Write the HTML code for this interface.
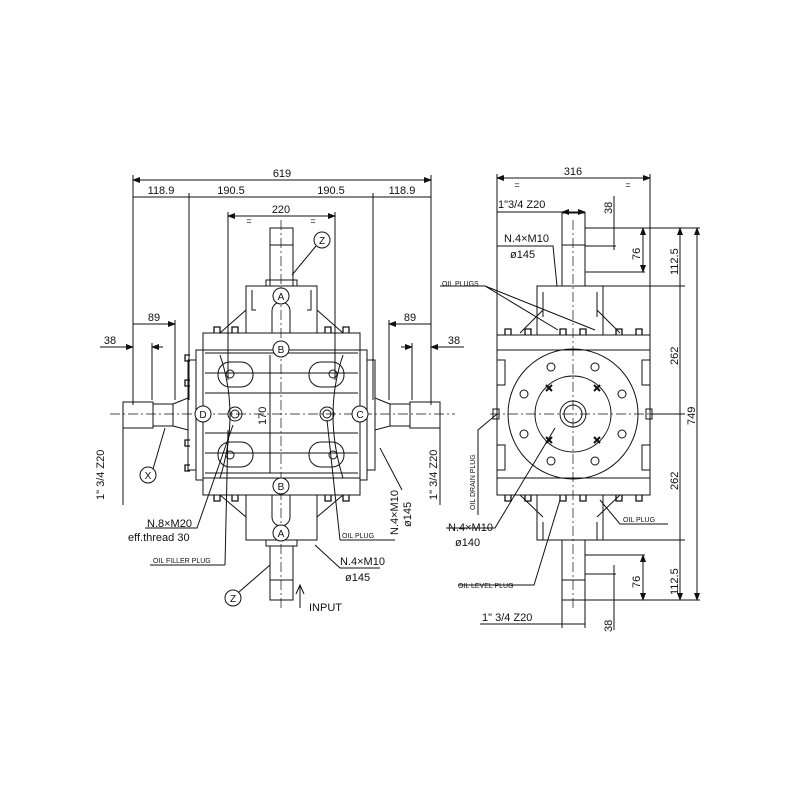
<!DOCTYPE html>
<html><head><style>
html,body{margin:0;padding:0;background:#fff}
svg{display:block}
text{font-family:"Liberation Sans",sans-serif;fill:#111}
</style></head><body>
<svg width="800" height="800" viewBox="0 0 800 800" xmlns="http://www.w3.org/2000/svg">
<defs>
<marker id="ar" markerWidth="8" markerHeight="6" refX="7" refY="3" orient="auto-start-reverse"><path d="M0,0 L8,3 L0,6z" fill="#111"/></marker>
</defs>
<rect width="800" height="800" fill="#fff"/>
<g stroke="#111" stroke-width="1" fill="none">
<!-- ========== LEFT VIEW ========== -->
<!-- dimension lines -->
<line x1="133" y1="180" x2="431" y2="180" marker-start="url(#ar)" marker-end="url(#ar)"/>
<line x1="133" y1="197" x2="431" y2="197"/>
<line x1="133" y1="175" x2="133" y2="405"/>
<line x1="431" y1="175" x2="431" y2="405"/>
<line x1="189" y1="193" x2="189" y2="400"/>
<line x1="373" y1="193" x2="373" y2="400"/>
<line x1="228" y1="216" x2="335" y2="216" marker-start="url(#ar)" marker-end="url(#ar)"/>
<line x1="228" y1="212" x2="228" y2="380"/>
<line x1="335" y1="212" x2="335" y2="380"/>
<line x1="133" y1="324" x2="175" y2="324" marker-end="url(#ar)"/>
<line x1="175" y1="320" x2="175" y2="400"/>
<line x1="431" y1="324" x2="389" y2="324" marker-end="url(#ar)"/>
<line x1="389" y1="320" x2="389" y2="400"/>
<line x1="100" y1="347" x2="133" y2="347" marker-end="url(#ar)"/>
<line x1="163" y1="347" x2="152" y2="347" marker-end="url(#ar)"/>
<line x1="152" y1="343" x2="152" y2="400"/>
<line x1="464" y1="347" x2="431" y2="347" marker-end="url(#ar)"/>
<line x1="401" y1="347" x2="412" y2="347" marker-end="url(#ar)"/>
<line x1="412" y1="343" x2="412" y2="400"/>
<line x1="123" y1="402" x2="123" y2="505"/>
<line x1="440" y1="402" x2="440" y2="505"/>
<line x1="270" y1="355" x2="270" y2="473"/>
<!-- center lines -->
<line x1="281" y1="220" x2="281" y2="610" stroke-dasharray="10,3,2,3" stroke-width="0.7"/>
<line x1="110" y1="414" x2="455" y2="414" stroke-dasharray="10,3,2,3" stroke-width="0.7"/>
<!-- top shaft + cap -->
<rect x="270" y="228" width="23" height="58"/>
<line x1="270" y1="245" x2="293" y2="245"/>
<rect x="266" y="280" width="31" height="6"/>
<rect x="246" y="286" width="71" height="47"/>
<path d="M252,290 v20 h4 M311,290 v20 h-4"/>
<path d="M272,333 v-22 a9,9 0 0 1 18,0 v22"/>
<path d="M246,310 L220,333 M317,310 L343,333"/>
<!-- bottom shaft + cap -->
<rect x="246" y="495" width="71" height="45"/>
<path d="M272,495 v22 a9,9 0 0 0 18,0 v-22"/>
<path d="M246,517 L220,495 M317,517 L343,495"/>
<rect x="266" y="540" width="31" height="6"/>
<rect x="270" y="546" width="23" height="54"/>
<line x1="270" y1="580" x2="293" y2="580"/>
<!-- main body -->
<rect x="203" y="333" width="157" height="162"/>
<line x1="203" y1="350" x2="360" y2="350"/>
<line x1="203" y1="478" x2="360" y2="478"/>
<line x1="205" y1="353" x2="358" y2="353"/>
<line x1="205" y1="373" x2="358" y2="373"/>
<line x1="205" y1="393" x2="358" y2="393"/>
<line x1="205" y1="433" x2="358" y2="433"/>
<line x1="205" y1="453" x2="358" y2="453"/>
<line x1="205" y1="473" x2="358" y2="473"/>
<rect x="196" y="350" width="7" height="130"/>
<rect x="360" y="350" width="7" height="130"/>
<rect x="188" y="360" width="8" height="110"/>
<rect x="367" y="360" width="8" height="110"/>
<path d="M220,355 Q240,414 220,478 M343,355 Q323,414 343,478"/>
<rect x="218" y="362" width="35" height="25" rx="12"/>
<rect x="309" y="362" width="35" height="25" rx="12"/>
<rect x="218" y="442" width="35" height="25" rx="12"/>
<rect x="309" y="442" width="35" height="25" rx="12"/>
<circle cx="230" cy="374" r="4"/><circle cx="333" cy="374" r="4"/>
<circle cx="230" cy="455" r="4"/><circle cx="333" cy="455" r="4"/>
<circle cx="235" cy="414" r="7"/><circle cx="235" cy="414" r="4"/>
<circle cx="327" cy="414" r="7"/><circle cx="327" cy="414" r="4"/>
<g stroke-width="1.3">
<path d="M214,333 v-6 h6 v6 M232,333 v-6 h6 v6 M325,333 v-6 h6 v6 M343,333 v-6 h6 v6"/>
<path d="M214,495 v6 h6 v-6 M232,495 v6 h6 v-6 M325,495 v6 h6 v-6 M343,495 v6 h6 v-6"/>
<path d="M190,355 h-5 v6 h5 M190,380 h-5 v6 h5 M190,440 h-5 v6 h5 M190,465 h-5 v6 h5"/>
</g>
<!-- side shafts -->
<rect x="123" y="402" width="30" height="26"/>
<rect x="153" y="404" width="20" height="22"/>
<path d="M173,404 L188,398 v32 L173,426"/>
<rect x="410" y="402" width="30" height="26"/>
<rect x="390" y="404" width="20" height="22"/>
<path d="M390,404 L375,398 v32 L390,426"/>
<!-- labels circles -->
<g fill="#fff">
<circle cx="281" cy="296" r="8"/><circle cx="281" cy="349" r="8"/>
<circle cx="281" cy="486" r="8"/><circle cx="281" cy="533" r="8"/>
<circle cx="203" cy="414" r="8"/><circle cx="360" cy="414" r="8"/>
<circle cx="322" cy="240" r="8"/><circle cx="233" cy="598" r="8"/><circle cx="148" cy="475" r="8"/>
</g>
<!-- leaders -->
<path d="M316,246 L292,275"/>
<path d="M239,592 L270,565"/>
<path d="M153,469 L165,428"/>
<path d="M145,528 L197,528 L233,425"/>
<path d="M225,565 L228,430"/>
<path d="M150,565 L225,565"/>
<path d="M340,540 L395,540 M340,540 L327,420"/>
<path d="M315,545 L340,568 L380,568"/>
<path d="M402,490 L380,448"/>
<path d="M300,608 L300,585 M296,594 L300,585 L304,594"/>
<!-- ========== RIGHT VIEW ========== -->
<line x1="497" y1="178" x2="650" y2="178" marker-start="url(#ar)" marker-end="url(#ar)"/>
<line x1="497" y1="174" x2="497" y2="400"/>
<line x1="650" y1="174" x2="650" y2="400"/>
<line x1="562" y1="212" x2="585" y2="212" marker-start="url(#ar)" marker-end="url(#ar)"/>
<line x1="497" y1="212" x2="562" y2="212"/>
<line x1="614" y1="196" x2="614" y2="250"/>
<line x1="643" y1="228" x2="643" y2="272" marker-start="url(#ar)" marker-end="url(#ar)"/>
<line x1="585" y1="228" x2="700" y2="228"/>
<line x1="585" y1="272" x2="645" y2="272"/>
<line x1="585" y1="246" x2="616" y2="246"/>
<line x1="680" y1="228" x2="680" y2="600" marker-start="url(#ar)" marker-end="url(#ar)"/>
<line x1="697" y1="228" x2="697" y2="600" marker-start="url(#ar)" marker-end="url(#ar)"/>
<line x1="603" y1="286" x2="685" y2="286"/>
<line x1="650" y1="414" x2="685" y2="414"/>
<line x1="603" y1="540" x2="685" y2="540"/>
<line x1="585" y1="555" x2="645" y2="555"/>
<line x1="585" y1="600" x2="700" y2="600"/>
<line x1="585" y1="574" x2="616" y2="574"/>
<line x1="643" y1="555" x2="643" y2="600" marker-start="url(#ar)" marker-end="url(#ar)"/>
<line x1="614" y1="565" x2="614" y2="630"/>
<line x1="562" y1="600" x2="562" y2="628"/>
<line x1="585" y1="600" x2="585" y2="628"/>
<line x1="480" y1="624" x2="585" y2="624"/>
<line x1="573" y1="220" x2="573" y2="610" stroke-dasharray="10,3,2,3" stroke-width="0.7"/>
<line x1="490" y1="414" x2="660" y2="414" stroke-dasharray="10,3,2,3" stroke-width="0.7"/>
<rect x="562" y="213" width="23" height="73"/>
<line x1="562" y1="245" x2="585" y2="245"/>
<rect x="537" y="286" width="66" height="49"/>
<path d="M543,292 v25 M597,292 v25 M543,310 L520,333 M597,310 L620,333"/>
<rect x="497" y="335" width="153" height="160"/>
<line x1="497" y1="350" x2="650" y2="350"/>
<line x1="497" y1="478" x2="650" y2="478"/>
<path d="M497,360 h8 v25 h-8 M650,360 h-8 v25 h8 M497,445 h8 v25 h-8 M650,445 h-8 v25 h8"/>
<circle cx="573" cy="414" r="65"/>
<circle cx="573" cy="414" r="38"/>
<circle cx="573" cy="414" r="13"/>
<circle cx="573" cy="414" r="9"/>
<g>
<circle cx="551" cy="367" r="4"/><circle cx="595" cy="367" r="4"/>
<circle cx="524" cy="394" r="4"/><circle cx="622" cy="394" r="4"/>
<circle cx="524" cy="434" r="4"/><circle cx="622" cy="434" r="4"/>
<circle cx="551" cy="461" r="4"/><circle cx="595" cy="461" r="4"/>
</g>
<g stroke-width="2"><path d="M546,385 l6,6 M552,385 l-6,6 M594,385 l6,6 M600,385 l-6,6 M546,437 l6,6 M552,437 l-6,6 M594,437 l6,6 M600,437 l-6,6"/></g>
<rect x="493" y="409" width="6" height="10"/><rect x="646" y="409" width="6" height="10"/>
<rect x="537" y="495" width="66" height="45"/>
<path d="M543,522 v18 M597,522 v18 M543,517 L520,495 M597,517 L620,495"/>
<rect x="562" y="540" width="23" height="60"/>
<line x1="562" y1="580" x2="585" y2="580"/>
<g stroke-width="1.3">
<path d="M505,335 v-6 h6 v6 M525,335 v-6 h6 v6 M560,335 v-6 h6 v6 M580,335 v-6 h6 v6 M616,335 v-6 h6 v6 M636,335 v-6 h6 v6"/>
<path d="M505,495 v6 h6 v-6 M525,495 v6 h6 v-6 M560,495 v6 h6 v-6 M580,495 v6 h6 v-6 M616,495 v6 h6 v-6 M636,495 v6 h6 v-6"/>
</g>
<!-- right leaders -->
<path d="M497,246 L553,246 L557,286"/>
<path d="M440,286 L485,286 L558,330 M485,286 L595,330"/>
<path d="M478,515 L478,430 L497,414"/>
<path d="M446,528 L495,528 L555,428"/>
<path d="M458,585 L534,585 L560,500"/>
<path d="M668,524 L620,524 L600,500"/>
</g>
<!-- circle letters -->
<g font-size="10" text-anchor="middle">
<text x="281" y="300">A</text><text x="281" y="353">B</text>
<text x="281" y="490">B</text><text x="281" y="537">A</text>
<text x="203" y="418">D</text><text x="360" y="418">C</text>
<text x="322" y="244">Z</text><text x="233" y="602">Z</text><text x="148" y="479">X</text>
</g>
<g font-size="11" text-anchor="middle">
<text x="282" y="177">619</text>
<text x="161" y="194">118.9</text><text x="231" y="194">190.5</text>
<text x="331" y="194">190.5</text><text x="402" y="194">118.9</text>
<text x="281" y="213">220</text>
<text x="154" y="321">89</text><text x="410" y="321">89</text>
<text x="110" y="344">38</text><text x="454" y="344">38</text>
<text x="573" y="175">316</text>
<text x="249" y="224" font-size="9">=</text><text x="313" y="224" font-size="9">=</text>
<text x="517" y="188" font-size="9">=</text><text x="628" y="188" font-size="9">=</text>
</g>
<g font-size="11">
<text x="498" y="208">1"3/4  Z20</text>
<text x="504" y="242">N.4×M10</text>
<text x="510" y="258">ø145</text>
<text x="147" y="527">N.8×M20</text>
<text x="128" y="541">eff.thread 30</text>
<text x="340" y="565">N.4×M10</text>
<text x="345" y="581">ø145</text>
<text x="309" y="611">INPUT</text>
<text x="448" y="531">N.4×M10</text>
<text x="455" y="546">ø140</text>
<text x="482" y="621">1"  3/4  Z20</text>
</g>
<g font-size="7">
<text x="153" y="563">OIL FILLER PLUG</text>
<text x="342" y="538">OIL PLUG</text>
<text x="442" y="286">OIL PLUGS</text>
<text x="623" y="522">OIL PLUG</text>
<text x="458" y="588">OIL LEVEL PLUG</text>
<text transform="translate(475,510) rotate(-90)">OIL DRAIN PLUG</text>
</g>
<g font-size="11">
<text transform="translate(104,500) rotate(-90)">1"  3/4  Z20</text>
<text transform="translate(437,500) rotate(-90)">1"  3/4  Z20</text>
<text transform="translate(266,425) rotate(-90)">170</text>
<text transform="translate(398,535) rotate(-90)">N.4×M10</text>
<text transform="translate(411,527) rotate(-90)">ø145</text>
<text transform="translate(612,214) rotate(-90)">38</text>
<text transform="translate(640,260) rotate(-90)">76</text>
<text transform="translate(678,275) rotate(-90)">112.5</text>
<text transform="translate(678,365) rotate(-90)">262</text>
<text transform="translate(695,425) rotate(-90)">749</text>
<text transform="translate(678,490) rotate(-90)">262</text>
<text transform="translate(640,588) rotate(-90)">76</text>
<text transform="translate(678,595) rotate(-90)">112.5</text>
<text transform="translate(612,632) rotate(-90)">38</text>
</g>
</svg>
</body></html>
